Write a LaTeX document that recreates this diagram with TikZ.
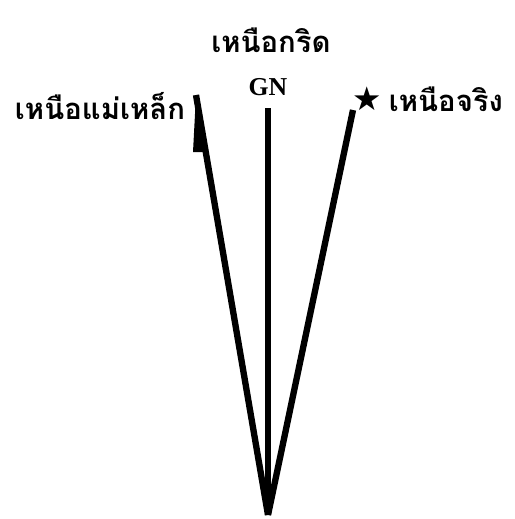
\documentclass[tikz,border=0pt]{standalone}
\usepackage{fontspec}
\newfontfamily\thaifont[Script=Thai]{Loma}
\newfontfamily\symfont{DejaVu Sans}
\newfontfamily\gnfont{Liberation Serif}
\usepackage{tikz}
\usetikzlibrary{positioning}

\begin{document}
\begin{tikzpicture}[x=0.03cm, y=-0.03cm, every node/.style={inner sep=0pt},
    thlabel/.style={font=\thaifont\bfseries\fontsize{25}{28}\selectfont},
    northline/.style={line width=0.19cm}]
    \useasboundingbox (0,0) rectangle (515,519);
    \coordinate (apex) at (268,515);
    \coordinate (gntop) at (268,108);
    \coordinate (mntop) at (196,95);
    \coordinate (tntop) at (353,110);
    \node[thlabel] (grid) at (271,40) {เหนือกริด};
    \node[font=\gnfont\bfseries\fontsize{22}{24}\selectfont] (gn) at (268,87) {GN};
    \node[thlabel] (magnetic) at (100,106) {เหนือแม่เหล็ก};
    \node[font=\symfont\fontsize{28}{30}\selectfont] (star) at (367,99) {★};
    \node[thlabel, right=0.2cm of star] (truenorth) {เหนือจริง};
    \draw[northline] (apex) -- (gntop);
    \draw[northline] (apex) -- (mntop);
    \draw[northline] (apex) -- (tntop);
    \fill (mntop) -- (193,152) -- (206,152) -- cycle;
  \end{tikzpicture}
\end{document}
